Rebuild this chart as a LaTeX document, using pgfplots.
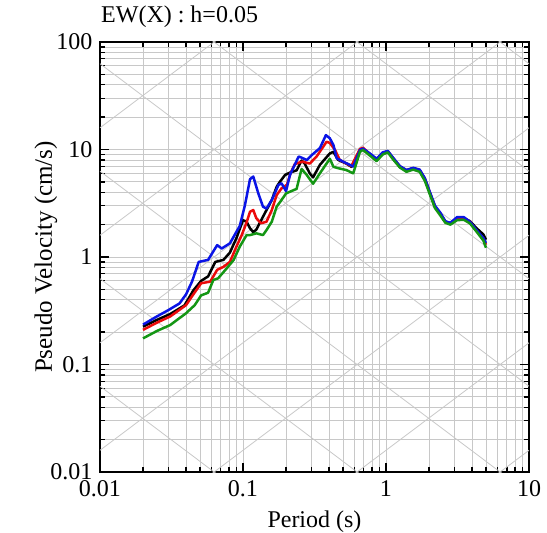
\documentclass[border=0pt]{standalone}
\usepackage{fontspec}
\setmainfont{Liberation Serif}
\usepackage{pgfplots}
\pgfplotsset{compat=1.18}
\usepackage{pgfplotstable}

\pgfplotstableread{
T V
0.02 0.235
0.025 0.28
0.03 0.32
0.036 0.37
0.04 0.45
0.044 0.59
0.049 0.90
0.057 0.94
0.066 1.29
0.071 1.20
0.081 1.34
0.095 1.95
0.103 3.0
0.112 5.3
0.118 5.6
0.128 3.9
0.138 2.94
0.146 2.82
0.159 3.39
0.177 4.68
0.186 4.85
0.200 4.1
0.213 5.8
0.230 7.2
0.245 8.6
0.257 8.4
0.279 7.98
0.303 8.89
0.345 10.3
0.380 13.6
0.405 12.7
0.429 11.0
0.452 8.3
0.502 7.7
0.558 7.2
0.590 6.95
0.658 9.9
0.690 10.2
0.770 9.2
0.860 8.2
0.950 9.4
1.03 9.7
1.12 8.4
1.25 7.0
1.39 6.45
1.55 6.75
1.72 6.5
1.87 5.4
2.03 4.0
2.20 3.0
2.39 2.6
2.60 2.15
2.82 2.08
3.14 2.35
3.50 2.35
3.87 2.12
4.30 1.78
4.80 1.5
5.00 1.35
}\blue

\pgfplotstableread{
T V
0.02 0.225
0.025 0.26
0.031 0.295
0.039 0.355
0.045 0.49
0.051 0.60
0.057 0.66
0.064 0.90
0.073 0.94
0.081 1.1
0.090 1.5
0.100 2.2
0.106 2.13
0.112 1.85
0.118 1.7
0.124 1.8
0.138 2.37
0.159 3.39
0.172 4.5
0.181 5.0
0.197 5.8
0.213 6.1
0.237 6.4
0.257 7.9
0.270 7.4
0.293 6.0
0.309 5.5
0.345 7.2
0.405 9.2
0.429 9.5
0.463 8.0
0.528 7.4
0.573 6.9
0.658 9.9
0.690 10.1
0.770 9.0
0.860 8.0
0.950 9.3
1.03 9.6
1.12 8.3
1.25 6.95
1.39 6.4
1.55 6.7
1.72 6.4
1.87 5.3
2.03 3.9
2.20 2.95
2.39 2.55
2.60 2.13
2.82 2.05
3.14 2.28
3.50 2.3
3.87 2.15
4.30 1.85
4.80 1.62
5.00 1.45
}\black

\pgfplotstableread{
T V
0.02 0.21
0.025 0.245
0.031 0.28
0.040 0.357
0.045 0.45
0.051 0.57
0.059 0.59
0.066 0.76
0.073 0.81
0.081 0.90
0.090 1.25
0.098 1.6
0.106 2.1
0.112 2.64
0.118 2.73
0.124 2.29
0.134 2.06
0.146 2.13
0.159 2.73
0.172 3.77
0.186 4.35
0.203 4.7
0.215 6.0
0.230 7.3
0.250 7.6
0.262 7.7
0.293 7.4
0.327 8.6
0.384 11.8
0.405 11.5
0.440 9.9
0.475 8.0
0.528 7.4
0.573 7.0
0.658 10.1
0.690 10.4
0.770 9.1
0.860 8.1
0.950 9.3
1.03 9.6
1.12 8.3
1.25 6.95
1.39 6.4
1.55 6.7
1.72 6.45
1.87 5.35
2.03 3.95
2.20 2.95
2.39 2.55
2.60 2.12
2.82 2.05
3.14 2.3
3.50 2.3
3.87 2.12
4.30 1.76
4.80 1.48
5.00 1.3
}\red

\pgfplotstableread{
T V
0.02 0.175
0.025 0.205
0.031 0.233
0.040 0.30
0.046 0.357
0.051 0.44
0.057 0.465
0.062 0.61
0.067 0.634
0.077 0.785
0.086 0.938
0.095 1.25
0.106 1.6
0.112 1.60
0.124 1.66
0.138 1.60
0.146 1.78
0.159 2.13
0.172 2.94
0.186 3.39
0.200 3.9
0.213 4.05
0.237 4.3
0.257 6.6
0.279 5.8
0.309 4.8
0.345 6.0
0.384 7.4
0.405 8.2
0.429 6.9
0.463 6.7
0.528 6.44
0.590 6.0
0.658 9.55
0.690 9.9
0.770 8.8
0.860 7.8
0.950 9.0
1.03 9.4
1.12 8.1
1.25 6.8
1.39 6.2
1.55 6.5
1.72 6.2
1.87 5.1
2.03 3.8
2.20 2.85
2.39 2.45
2.60 2.08
2.82 2.0
3.14 2.2
3.50 2.22
3.87 2.05
4.30 1.72
4.80 1.42
5.00 1.22
}\green

\definecolor{gridgray}{RGB}{200,200,200}
\definecolor{cblue}{RGB}{10,20,230}
\definecolor{cred}{RGB}{235,10,10}
\definecolor{cgreen}{RGB}{20,150,20}

\begin{document}
\begin{tikzpicture}
\useasboundingbox (-100pt,-61pt) rectangle (447pt,472pt);
\begin{axis}[
  xmode=log, ymode=log,
  scale only axis,
  width=429pt, height=430pt,
  xmin=0.01, xmax=10, ymin=0.01, ymax=100,
  xtick={0.01,0.1,1,10}, xticklabels={0.01,0.1,1,10},
  ytick={0.01,0.1,1,10,100}, yticklabels={0.01,0.1,1,10,100},
  /pgf/number format/assume math mode=true,
  grid=both,
  major grid style={gridgray, line width=0.8pt},
  minor grid style={gridgray, line width=0.8pt},
  tick align=inside,
  major tick length=9pt,
  minor tick length=5pt,
  every tick/.style={black, line width=1.3pt},
  axis line style={black, line width=2.6pt},
  tick label style={font=\fontsize{24}{28}\selectfont},
  xticklabel style={yshift=-5pt},
  yticklabel style={xshift=-4pt},
  xlabel={Period (s)},
  ylabel={Pseudo Velocity (cm/s)},
  xlabel style={font=\fontsize{24}{28}\selectfont, at={(axis description cs:0.5,-0.128)}, anchor=base},
  ylabel style={font=\fontsize{25}{29}\selectfont, at={(axis description cs:-0.126,0.5)}, anchor=center, rotate=0},
  title={EW(X) : h=0.05},
  title style={font=\fontsize{24}{28}\selectfont, at={(axis description cs:0,1)}, anchor=base west, inner sep=0pt, xshift=1pt, yshift=13pt},
]
% tripartite diagonal lines: constant displacement (slope -1)
\addplot[gridgray, line width=0.8pt, forget plot] coordinates {(0.01,0.06283) (10,6.283e-5)};
\addplot[gridgray, line width=0.8pt, forget plot] coordinates {(0.01,0.6283) (10,6.283e-4)};
\addplot[gridgray, line width=0.8pt, forget plot] coordinates {(0.01,6.283) (10,6.283e-3)};
\addplot[gridgray, line width=0.8pt, forget plot] coordinates {(0.01,62.83) (10,0.06283)};
\addplot[gridgray, line width=0.8pt, forget plot] coordinates {(0.01,628.3) (10,0.6283)};
\addplot[gridgray, line width=0.8pt, forget plot] coordinates {(0.01,6283) (10,6.283)};
\addplot[gridgray, line width=0.8pt, forget plot] coordinates {(0.01,62832) (10,62.83)};
% constant acceleration (slope +1)
\addplot[gridgray, line width=0.8pt, forget plot] coordinates {(0.01,1.5915e-5) (10,0.015915)};
\addplot[gridgray, line width=0.8pt, forget plot] coordinates {(0.01,1.5915e-4) (10,0.15915)};
\addplot[gridgray, line width=0.8pt, forget plot] coordinates {(0.01,1.5915e-3) (10,1.5915)};
\addplot[gridgray, line width=0.8pt, forget plot] coordinates {(0.01,0.015915) (10,15.915)};
\addplot[gridgray, line width=0.8pt, forget plot] coordinates {(0.01,0.15915) (10,159.15)};
\addplot[gridgray, line width=0.8pt, forget plot] coordinates {(0.01,1.5915) (10,1591.5)};
\addplot[gridgray, line width=0.8pt, forget plot] coordinates {(0.01,15.915) (10,15915)};
% response spectra
\addplot[black, line width=2.5pt, line join=round] table[x=T,y=V] {\black};
\addplot[cred, line width=2.5pt, line join=round] table[x=T,y=V] {\red};
\addplot[cblue, line width=2.5pt, line join=round] table[x=T,y=V] {\blue};
\addplot[cgreen, line width=2.5pt, line join=round] table[x=T,y=V] {\green};
\end{axis}
\end{tikzpicture}
\end{document}
